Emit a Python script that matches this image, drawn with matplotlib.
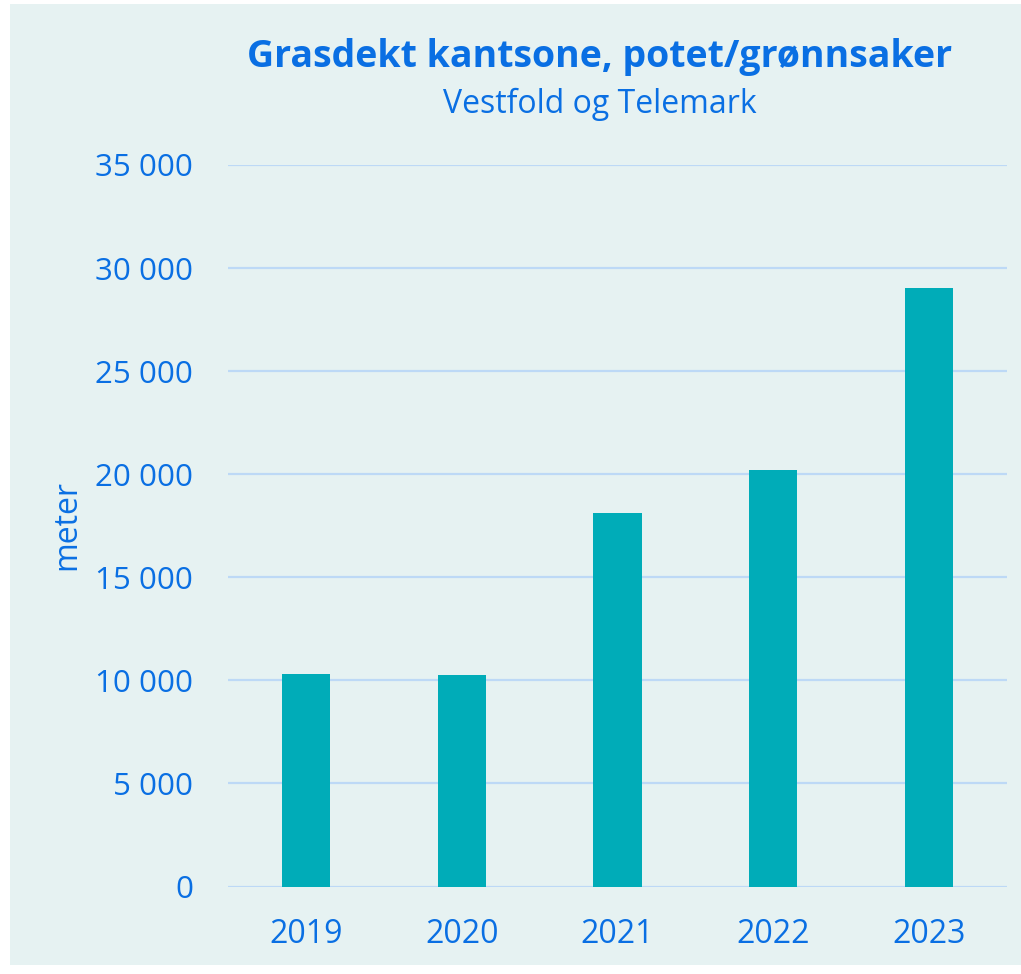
import matplotlib
matplotlib.use("Agg")
import matplotlib.pyplot as plt
from matplotlib.patches import Rectangle
from matplotlib.ticker import FuncFormatter

years = ["2019", "2020", "2021", "2022", "2023"]
values = [10300, 10250, 18100, 20200, 29050]
yticks = [0, 5000, 10000, 15000, 20000, 25000, 30000, 35000]

title = "Grasdekt kantsone, potet/grønnsaker"
subtitle = "Vestfold og Telemark"
ylabel = "meter"

W, H = 1021, 974
bg = "#e6f2f2"
blue = "#0a6fe3"
bar_c = "#00acb8"
grid_c = "#bdd9f6"

plt.rcParams["font.family"] = ["Open Sans", "DejaVu Sans"]

fig = plt.figure(figsize=(W / 100, H / 100), dpi=100)
fig.patch.set_facecolor("white")
fig.patches.append(Rectangle((10 / W, (H - 965) / H), (W - 10) / W, (965 - 4) / H,
                             transform=fig.transFigure, facecolor=bg, edgecolor="none", zorder=-10))

ax = fig.add_axes([228 / W, (H - 886.5) / H, (1007 - 228) / W, (886.5 - 165) / H])
ax.set_zorder(1)
ax.set_facecolor("none")
x = list(range(len(years)))
ax.bar(x, values, width=0.31, color=bar_c, zorder=3)
ax.set_xlim(-0.5, len(years) - 0.5)
ax.set_ylim(0, 35000)
ax.set_yticks(yticks)
ax.yaxis.set_major_formatter(FuncFormatter(lambda v, p: f"{int(v):,}".replace(",", " ")))
ax.set_xticks(x)
ax.set_xticklabels(years)
ax.grid(axis="y", color=grid_c, linewidth=1.6, zorder=1)
ax.set_axisbelow(True)
for s in ax.spines.values():
    s.set_visible(False)
ax.tick_params(axis="y", length=0, pad=25, labelsize=22.5, labelcolor=blue)
ax.tick_params(axis="x", length=0, pad=23, labelsize=23, labelcolor=blue)

fig.text(600 / W, 1 - 57 / H, title, ha="center", va="center", fontsize=27,
         fontweight="bold", color=blue)
fig.text(600 / W, 1 - 104 / H, subtitle, ha="center", va="center", fontsize=23, color=blue)
fig.text(67 / W, 1 - 525 / H, ylabel, ha="center", va="center", rotation=90, fontsize=23, color=blue)

fig.savefig("out.png", dpi=100)
